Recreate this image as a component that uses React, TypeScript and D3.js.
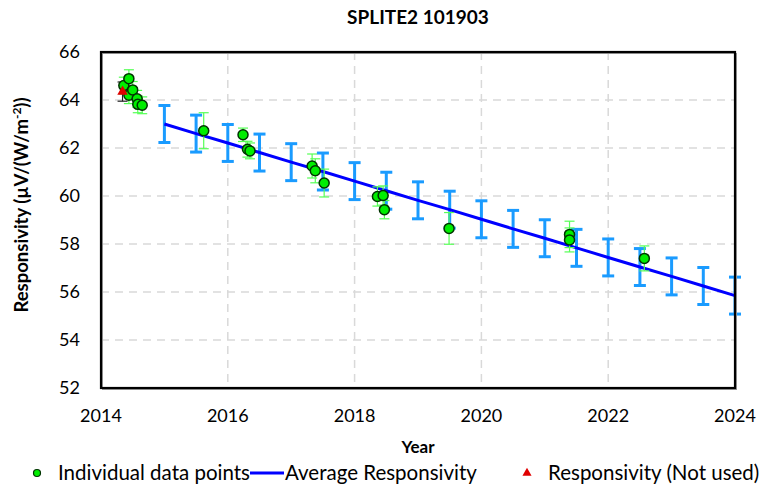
import * as d3 from "d3";

// individual measurements (year, responsivity, uncertainty)
const pointYears = [2014.36, 2014.44, 2014.44, 2014.5, 2014.57, 2014.58, 2014.65, 2015.62, 2016.24, 2016.31, 2016.35, 2017.33, 2017.38, 2017.52, 2018.36, 2018.45, 2018.47, 2019.49, 2021.39, 2021.39, 2022.57];
const pointValues = [64.6, 64.89, 64.2, 64.42, 64.05, 63.82, 63.78, 62.72, 62.55, 61.95, 61.88, 61.25, 61.05, 60.54, 59.98, 60.02, 59.43, 58.65, 58.4, 58.17, 57.4];
const pointErrors = [0.35, 0.37, 0.35, 0.35, 0.35, 0.35, 0.35, 0.75, 0.28, 0.33, 0.33, 0.5, 0.5, 0.58, 0.4, 0.4, 0.38, 0.66, 0.55, 0.5, 0.52];

// average responsivity, every half year
const avgYears = [2015, 2015.5, 2016, 2016.5, 2017, 2017.5, 2018, 2018.5, 2019, 2019.5, 2020, 2020.5, 2021, 2021.5, 2022, 2022.5, 2023, 2023.5, 2024];
const avgValues = [63.0, 62.6, 62.21, 61.81, 61.41, 61.02, 60.62, 60.22, 59.82, 59.43, 59.03, 58.63, 58.24, 57.84, 57.44, 57.04, 56.65, 56.25, 55.85];
const avgErrors = [0.77, 0.77, 0.77, 0.77, 0.77, 0.77, 0.77, 0.77, 0.77, 0.77, 0.77, 0.77, 0.77, 0.77, 0.77, 0.77, 0.77, 0.77, 0.77];

// the one not used
const unusedYears = [2014.34];
const unusedValues = [64.35];
const unusedErrors = [0.4];

const xTicks = [2014, 2016, 2018, 2020, 2022, 2024];
const yTicks = [52, 54, 56, 58, 60, 62, 64, 66];

const W = 772;
const H = 487;
const FONT = "Lato, 'Open Sans', sans-serif";

export default function App() {
  const left = 101, right = 735, top = 52, bottom = 388;
  const x = d3.scaleLinear().domain([2014, 2024]).range([left, right]);
  const y = d3.scaleLinear().domain([52, 66]).range([bottom, top]);

  const avgLine = d3.line<number>()
    .x((_, i) => x(avgYears[i]))
    .y((d) => y(d));

  const tri = d3.symbol().type(d3.symbolTriangle).size(48)();
  const triSmall = d3.symbol().type(d3.symbolTriangle).size(36)();

  return (
    <svg width={W} height={H} style={{ position: "absolute", left: 0, top: 0, background: "#fff" }} fontFamily={FONT}>
      <text x={(left + right) / 2} y={24} textAnchor="middle" fontSize={19} fontWeight="bold">SPLITE2 101903</text>

      {/* grid */}
      {xTicks.slice(1, -1).map((t) => (
        <line key={"gx" + t} x1={x(t)} x2={x(t)} y1={top} y2={bottom} stroke="#d9d9d9" strokeWidth={1.5} strokeDasharray="8,6" />
      ))}
      {yTicks.slice(1, -1).map((t) => (
        <line key={"gy" + t} x1={left} x2={right} y1={y(t)} y2={y(t)} stroke="#d9d9d9" strokeWidth={1.5} strokeDasharray="8,6" />
      ))}

      {/* average error bars */}
      {avgYears.map((yr, i) => {
        const cx = x(yr);
        const y1 = y(avgValues[i] + avgErrors[i]);
        const y2 = y(avgValues[i] - avgErrors[i]);
        return (
          <g key={"ab" + i} stroke="#1a9bff" strokeWidth={3}>
            <line x1={cx} x2={cx} y1={y1} y2={y2} />
            <line x1={cx - 6} x2={cx + 6} y1={y1} y2={y1} />
            <line x1={cx - 6} x2={cx + 6} y1={y2} y2={y2} />
          </g>
        );
      })}
      <path d={avgLine(avgValues) ?? ""} fill="none" stroke="#0000ff" strokeWidth={3} />

      {/* individual error bars */}
      {pointYears.map((yr, i) => {
        const cx = x(yr);
        const y1 = y(pointValues[i] + pointErrors[i]);
        const y2 = y(pointValues[i] - pointErrors[i]);
        return (
          <g key={"pb" + i} stroke="#55ff55" strokeWidth={1.2}>
            <line x1={cx} x2={cx} y1={y1} y2={y2} />
            <line x1={cx - 5} x2={cx + 5} y1={y1} y2={y1} />
            <line x1={cx - 5} x2={cx + 5} y1={y2} y2={y2} />
          </g>
        );
      })}
      {unusedYears.map((yr, i) => {
        const cx = x(yr);
        const y1 = y(unusedValues[i] + unusedErrors[i]);
        const y2 = y(unusedValues[i] - unusedErrors[i]);
        return (
          <g key={"ub" + i} stroke="#222" strokeWidth={1.2}>
            <line x1={cx} x2={cx} y1={y1} y2={y2} />
            <line x1={cx - 5} x2={cx + 5} y1={y1} y2={y1} />
            <line x1={cx - 5} x2={cx + 5} y1={y2} y2={y2} />
          </g>
        );
      })}
      {pointYears.map((yr, i) => (
        <circle key={"p" + i} cx={x(yr)} cy={y(pointValues[i])} r={5} fill="#00ee00" stroke="#003300" strokeWidth={1.5} />
      ))}
      {unusedYears.map((yr, i) => (
        <path key={"u" + i} d={tri ?? ""} transform={`translate(${x(yr)},${y(unusedValues[i])})`} fill="#e00000" />
      ))}

      {/* frame */}
      <rect x={left + 1.5} y={top + 1.5} width={right - left} height={bottom - top} fill="none" stroke="#999" strokeWidth={1} />
      <rect x={left} y={top} width={right - left} height={bottom - top} fill="none" stroke="#000" strokeWidth={2.2} />

      {/* axes labels */}
      {yTicks.map((t) => (
        <text key={"ty" + t} x={left - 21} y={y(t)} dy="0.35em" textAnchor="end" fontSize={18}>{t}</text>
      ))}
      {xTicks.map((t) => (
        <text key={"tx" + t} x={x(t)} y={bottom + 34} textAnchor="middle" fontSize={18}>{t}</text>
      ))}
      <text x={(left + right) / 2} y={453} textAnchor="middle" fontSize={17} fontWeight="bold">Year</text>
      <text transform="translate(28,205) rotate(-90)" textAnchor="middle" fontSize={18.5} fontWeight="bold">
        Responsivity (µV/(W/m<tspan baselineShift="super" fontSize={12}>-2</tspan>))
      </text>

      {/* legend */}
      <g transform="translate(0,473)" fontSize={20.5}>
        <circle cx={37} cy={0} r={3.5} fill="#00ee00" stroke="#003300" strokeWidth={1.2} />
        <text x={58} y={0} dy="0.35em">Individual data points</text>
        <line x1={250} x2={284} y1={0} y2={0} stroke="#0000ff" strokeWidth={3} />
        <text x={285} y={0} dy="0.35em">Average Responsivity</text>
        <path d={triSmall ?? ""} transform="translate(527,0)" fill="#e00000" />
        <text x={548} y={0} dy="0.35em">Responsivity (Not used)</text>
      </g>
    </svg>
  );
}
